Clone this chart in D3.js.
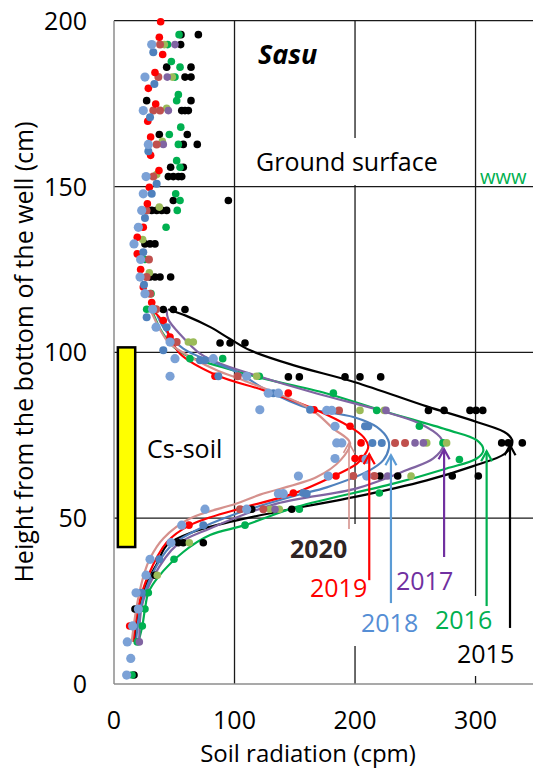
<!DOCTYPE html>
<html>
<head>
<meta charset="utf-8">
<title>Sasu</title>
<script src="https://d3js.org/d3.v7.min.js"></script>
<style>
  body { margin: 0; background: #fff; }
  text { font-family: "Open Sans", sans-serif; }
</style>
</head>
<body>
<svg id="chart" width="533" height="769"></svg>
<script>
// ---- data: soil radiation (cpm) vs height from the bottom of the well (cm) ----
const xTicks = [0, 100, 200, 300]
const yTicks = [0, 50, 100, 150, 200]

// measured points, one list per marker colour
const pts2015 = [[55.6,195.8],[70,195.8],[55.3,192.8],[43.7,186],[63.9,186],[58.9,183],[63.9,183],
  [27.1,175.9],[63.9,175.9],[56.2,172.9],[58.9,172.9],[61.7,172.9],[37.6,165.7],[60.8,165.7],[57.5,162.7],[69.1,162.7],
  [47,155.8],[57.5,155.8],[45.1,153],[49.2,153],[53.4,153],[56.2,153],[49.2,145.8],[94.9,145.8],
  [31.3,142.8],[35.4,142.8],[39.6,142.8],[43.7,142.8],[25.7,132.7],[29.9,132.7],[34,132.7],
  [29.9,122.7],[34,122.7],[38.2,122.7],[47,122.7],[40.9,112.9],[49.2,112.9],[58.9,112.9],
  [88,102.8],[96.3,102.8],[108.7,102.8],[144.7,92.6],[153.8,92.6],[191.7,92.6],[204.1,92.6],[221.3,92.6],
  [260.9,82.5],[273.9,82.5],[295.4,82.5],[300.4,82.5],[306,82.5],[321.7,72.7],[327.2,72.7],[338.8,72.7],
  [220.7,62.7],[235.4,62.7],[280.7,62.7],[302.3,62.7],[114.3,52.7],[147.5,52.7],
  [53.4,42.6],[57.5,42.6],[74.1,42.6],[34,32.8],[17.4,22.6],[16.6,2.7]]
const pts2016 = [[54,195.8],[44.5,192.8],[47.6,187.7],[54.8,186],[50.6,183],[53.4,177.7],[52,175.9],[55.4,167.9],
  [45.9,165.7],[53.4,162.7],[52,157.8],[54.8,155.8],[51.2,147.8],[54.8,145.8],[52.5,142.8],[43.2,137.7],
  [25.7,128],[30.7,117.7],[27.1,113],[63,98.1],[90.2,98.1],[120.6,92.8],[182,87.7],[218,82.5],[253.4,77.7],
  [273,72.7],[286.6,67.7],[220.2,57.6],[153.8,52.7],[108.7,47.9],[49.8,37.6],[28.5,27.5],[25.7,22.6],
  [23.5,17.5],[19.3,12.7],[15,2.7]]
const pts2017 = [[50.6,192.8],[44.2,183],[45.1,172.9],[40.9,162.7],[225.7,82.5],[249.8,72.7],[256.7,72.7],
  [227.1,62.7],[133.6,52.7],[21,12.7]]
const pts2017b = [[41.8,192.8],[48.4,183],[43.7,173.6],[40.1,163.6],[35.4,153.6],[37.6,143.8],[23.8,134],[29.3,124],
  [34,113],[61.7,103.1],[65.8,103.1],[118.4,92.8],[204.1,82.5],[224.3,82.5],[259.5,72.7],[276,72.7],
  [246.5,62.7],[129.5,52.7],[137.2,52.7],[62.5,42.6],[35.9,32.8]]
const pts2018 = [[32.6,190.5],[33.5,180.9],[29.9,170.9],[28.5,160.6],[35.4,150.8],[31.3,147.8],[25.7,140.5],[24.3,130.2],
  [24.9,120.4],[27.1,110.6],[43.7,107.6],[40.9,100.6],[71.4,97.6],[75.5,97.6],[86.6,92.8],[132.2,87.7],[162.7,82.7],
  [208.3,77.7],[211,77.7],[214.4,72.7],[222.2,72.7],[157.1,57.6],[159.9,57.4],[74.1,47.9],[37.6,37.6],[23,27.5]]
const pts2018b = [[31.3,192.8],[25.7,183],[24.3,172.9],[28.5,162.7],[26.6,153],[24.3,147.8],[23,142.8],[20.2,137.7],
  [16.6,132.7],[22.1,128],[21.6,122.7],[25.7,117.7],[32,113],[34.9,107.6],[46.5,103.1],[50.6,98.1],[82.4,98.1],
  [46.5,92.8],[110.1,92.8],[128,87.7],[136.4,87.7],[121,82.7],[176.5,82.5],[180.7,82.5],[183.4,77.7],[184.8,72.7],
  [189,72.7],[183.4,68],[209.1,67.7],[153,62.7],[177.8,62.7],[209.7,62.7],[136.4,57.4],[140.5,57.4],[75.5,52.7],
  [110.1,52.7],[56.2,47.9],[47.3,42.6],[29.9,37.6],[26.6,32.8],[18.3,27.5],[20.2,22.6],[15.5,17.5],[11,12.7],
  [13.9,7.7],[10.5,2.7]]
const pts2019 = [[38.7,199.7],[37.6,195],[40.4,189.8],[34,184.4],[28.5,179.6],[34.6,174.9],[28,169.7],[30.4,164.9],
  [30.4,159.4],[37.3,154.8],[29.3,149.8],[27.7,144.8],[24.3,137.7],[19.3,134.7],[19.3,129.7],[22.1,125],[24.3,119.7],
  [31.3,115],[40.9,109.6],[46.5,104.6],[83.8,92.8],[144.6,87.7],[166,82.7],[195.9,77.7],[205,72.7],[200,68],
  [205.6,68],[184.2,62.7],[148.8,57.6],[62.2,47.9],[13,17.5]]
const pts2020 = [[38.2,192.8],[36.8,183],[32.6,172.9],[38.2,172.9],[35.4,162.7],[32.6,153],[27,142.8],[29,128],
  [27,122.7],[30,117.7],[35,113],[52,103.1],[102.6,92.8],[186.7,82.5],[233.2,72.7],[241.5,72.7],[198.6,62.7],
  [216,62.7],[104.6,52.7],[123.9,52.7]]

// fitted curves
const fit2015 = [[45,113],[60,111],[80,107.6],[96,104.1],[113,100.6],[150,96],[200,91],[259.5,83.7],[301,79],[326,75.5],
  [330.6,73],[324.5,69.5],[298,65.7],[259.5,61.4],[200,56.4],[149,52.9],[99,49.1],[66,45.9],[44,41.9],[36,36.5],
  [29,31.8],[24,27.3],[20.2,21.3],[17.4,13.3]]
const fit2016 = [[31,113],[40,106],[50,101.5],[63,98.6],[90,95.5],[118.4,92.6],[176.5,87.6],[226.3,82],[276,76.7],
  [301,73.5],[306.5,70.5],[301,68],[276,65],[231.8,60.4],[151.6,53.4],[108.7,47.9],[79.7,44.9],[57.5,39.8],
  [36.8,32.3],[28.5,27.5],[25.7,22.6],[23.5,17.5],[20.2,12.7]]
const fit2017 = [[43.7,113],[45,110],[56,105],[71.4,99.6],[88,96.6],[112.9,93.6],[168.2,87.6],[220.7,82.5],[254,78.5],
  [270.5,74.5],[273.3,72],[265,68],[243,64.5],[201.4,59],[135,54.4],[79.7,46.9],[52,41.9],[32.6,32.3],[23,23.3],
  [21,12.7]]
const fit2018 = [[36,111],[42,107],[57.5,101.1],[101.8,94.1],[126.7,88.6],[162.7,83],[198.6,80.5],[218,77.5],
  [227.6,73.5],[228,71],[223.5,67.5],[212.4,64.5],[176.5,59.3],[151.6,56.9],[101.8,51.4],[65.8,45.9],[46.5,41.4],
  [31.3,32.8],[22.1,23.3],[18.3,12.7]]
const fit2019 = [[31.3,113],[40.9,109.1],[46.5,104.6],[54.8,99.6],[85.2,93.1],[123.9,88.6],[165.4,83],[195.9,77.5],
  [206.9,74.5],[211,71.5],[206.9,68.5],[201.4,66.4],[180.7,62.4],[148.8,57.4],[104.6,52.9],[63,47.9],[43.7,42.7],
  [28.5,32.8],[20.2,23.3],[16,12.7]]
const fit2020 = [[30,113],[38,107],[45,103],[52,101.1],[85.2,94.6],[107.3,91.6],[162.7,83],[182,77],[195.9,72.7],
  [188,67.5],[168.2,62.4],[121.2,57.1],[101.8,54.4],[63,49.9],[40.9,43.9],[29.9,37.9],[24.3,32.3],[18.8,23.3],
  [14.7,12.7]]

// peak arrows (x position, tip height, tail height) and year labels
const years = ["2015", "2016", "2017", "2018", "2019", "2020"]
const arrowX = [328.6, 309.2, 273.9, 229.8, 211.8, 195]
const arrowTop = [72, 70.2, 70.8, 69, 69.3, 72.7]
const arrowBottom = [16.9, 23.5, 38.3, 24.4, 31.3, 46.7]

// ---- layout ----
const svg = d3.select("#chart")
const margin = {left: 114, top: 20.7}
const W = 421.8, H = 663.3

const x = d3.scaleLinear().domain([0, 350]).range([margin.left, margin.left + W])
const y = d3.scaleLinear().domain([0, 200]).range([margin.top + H, margin.top])

const ptColor = {p15: "#000000", p16: "#00b050", p17: "#8064a2", p17b: "#9bbb59",
                 p18: "#4f81bd", p18b: "#7ba1d6", p19: "#ff0000", p20: "#c0504d"}
const fitColor = ["#000000", "#00b050", "#8064a2", "#4f81bd", "#ff0000", "#d5918d"]
const arrowColor = ["#000000", "#00b050", "#7030a0", "#5b9bd5", "#ff0000", "#d5918d"]
const labelColor = ["#000000", "#00b050", "#7030a0", "#558ed5", "#ff0000", "#2e2424"]

// gridlines
svg.append("g").selectAll("line.h").data(yTicks.filter(d => d > 0)).join("line")
   .attr("x1", x(0)).attr("x2", x(350)).attr("y1", d => y(d)).attr("y2", d => y(d))
   .attr("stroke", "#1a1a1a").attr("stroke-width", 1.3)
svg.append("g").selectAll("line.v").data(xTicks.filter(d => d > 0)).join("line")
   .attr("x1", d => x(d)).attr("x2", d => x(d)).attr("y1", y(0)).attr("y2", y(200))
   .attr("stroke", "#1a1a1a").attr("stroke-width", 1.3)

// axis lines (grey)
svg.append("line").attr("x1", x(0)).attr("x2", x(0)).attr("y1", y(0)).attr("y2", y(200))
   .attr("stroke", "#8c8c8c").attr("stroke-width", 1.5)
svg.append("line").attr("x1", x(0)).attr("x2", x(350)).attr("y1", y(0)).attr("y2", y(0))
   .attr("stroke", "#8c8c8c").attr("stroke-width", 1.5)

// tick labels
svg.append("g").selectAll("text").data(yTicks).join("text")
   .attr("x", 87).attr("y", d => y(d) + 9).attr("text-anchor", "end")
   .attr("font-size", 25).text(d => d)
svg.append("g").selectAll("text").data(xTicks).join("text")
   .attr("x", d => x(d)).attr("y", 729).attr("text-anchor", "middle")
   .attr("font-size", 25).text(d => d)

// axis titles
svg.append("text").attr("transform", "translate(33,352) rotate(-90)")
   .attr("text-anchor", "middle").attr("font-size", 25)
   .text("Height from the bottom of the well (cm)")
svg.append("text").attr("x", 308).attr("y", 762).attr("text-anchor", "middle")
   .attr("font-size", 24).text("Soil radiation (cpm)")

// white text boxes (they cut the gridlines as in the original)
const boxes = [[250, 138, 195, 47], [283, 524, 77, 44], [303, 568, 69, 78], [430, 596, 67, 44], [452, 640, 66, 36]]
svg.append("g").selectAll("rect").data(boxes).join("rect")
   .attr("x", d => d[0]).attr("y", d => d[1]).attr("width", d => d[2]).attr("height", d => d[3])
   .attr("fill", "#fff")

// Cs-soil layer
svg.append("rect").attr("x", x(3.2)).attr("y", y(101.5))
   .attr("width", x(17.6) - x(3.2)).attr("height", y(41.3) - y(101.5))
   .attr("fill", "#ffff00").attr("stroke", "#000").attr("stroke-width", 2.5)

// fitted curves
const line = d3.line().x(d => x(d[0])).y(d => y(d[1])).curve(d3.curveCatmullRom.alpha(0.5))
const fits = [fit2015, fit2016, fit2017, fit2018, fit2019, fit2020]
svg.append("g").selectAll("path").data(fits).join("path")
   .attr("d", line).attr("fill", "none")
   .attr("stroke", (d, i) => fitColor[i]).attr("stroke-width", 2.2)

// measured points
const series = [[pts2015, "p15", 3.8], [pts2016, "p16", 3.8], [pts2017b, "p17b", 3.8], [pts2017, "p17", 3.8],
                [pts2020, "p20", 4], [pts2019, "p19", 3.8], [pts2018, "p18", 4], [pts2018b, "p18b", 4.6]]
series.forEach(([pts, key, r]) => {
  svg.append("g").selectAll("circle").data(pts).join("circle")
     .attr("cx", d => x(d[0])).attr("cy", d => y(d[1])).attr("r", r)
     .attr("fill", ptColor[key])
})

// peak arrows
years.forEach((yr, i) => {
  const g = svg.append("g").attr("stroke", arrowColor[i]).attr("fill", "none")
     .attr("stroke-width", i == 5 ? 1.6 : 2.2)
  const ax = x(arrowX[i]), ty = y(arrowTop[i])
  g.append("line").attr("x1", ax).attr("x2", ax).attr("y1", y(arrowBottom[i])).attr("y2", ty)
  g.append("path").attr("d", `M${ax - 5.5},${ty + 10}L${ax},${ty}L${ax + 5.5},${ty + 10}`)
})

// year labels
const labelPos = [[457, 663], [435, 629], [396, 590], [361, 632], [310, 597], [290, 558]]
svg.append("g").selectAll("text").data(years).join("text")
   .attr("x", (d, i) => labelPos[i][0]).attr("y", (d, i) => labelPos[i][1])
   .attr("font-size", 25).attr("fill", (d, i) => labelColor[i])
   .attr("font-weight", (d, i) => i == 5 ? 700 : 400)
   .text(d => d)

// other annotations
svg.append("text").attr("x", 258).attr("y", 64).attr("font-size", 27)
   .attr("font-weight", 700).attr("font-style", "italic").text("Sasu")
svg.append("text").attr("x", 256).attr("y", 171).attr("font-size", 25).text("Ground surface")
svg.append("text").attr("x", 147).attr("y", 458).attr("font-size", 25).text("Cs-soil")
svg.append("text").attr("x", 480).attr("y", 184).attr("font-size", 20).attr("fill", "#00b050").text("www")
</script>
</body>
</html>
